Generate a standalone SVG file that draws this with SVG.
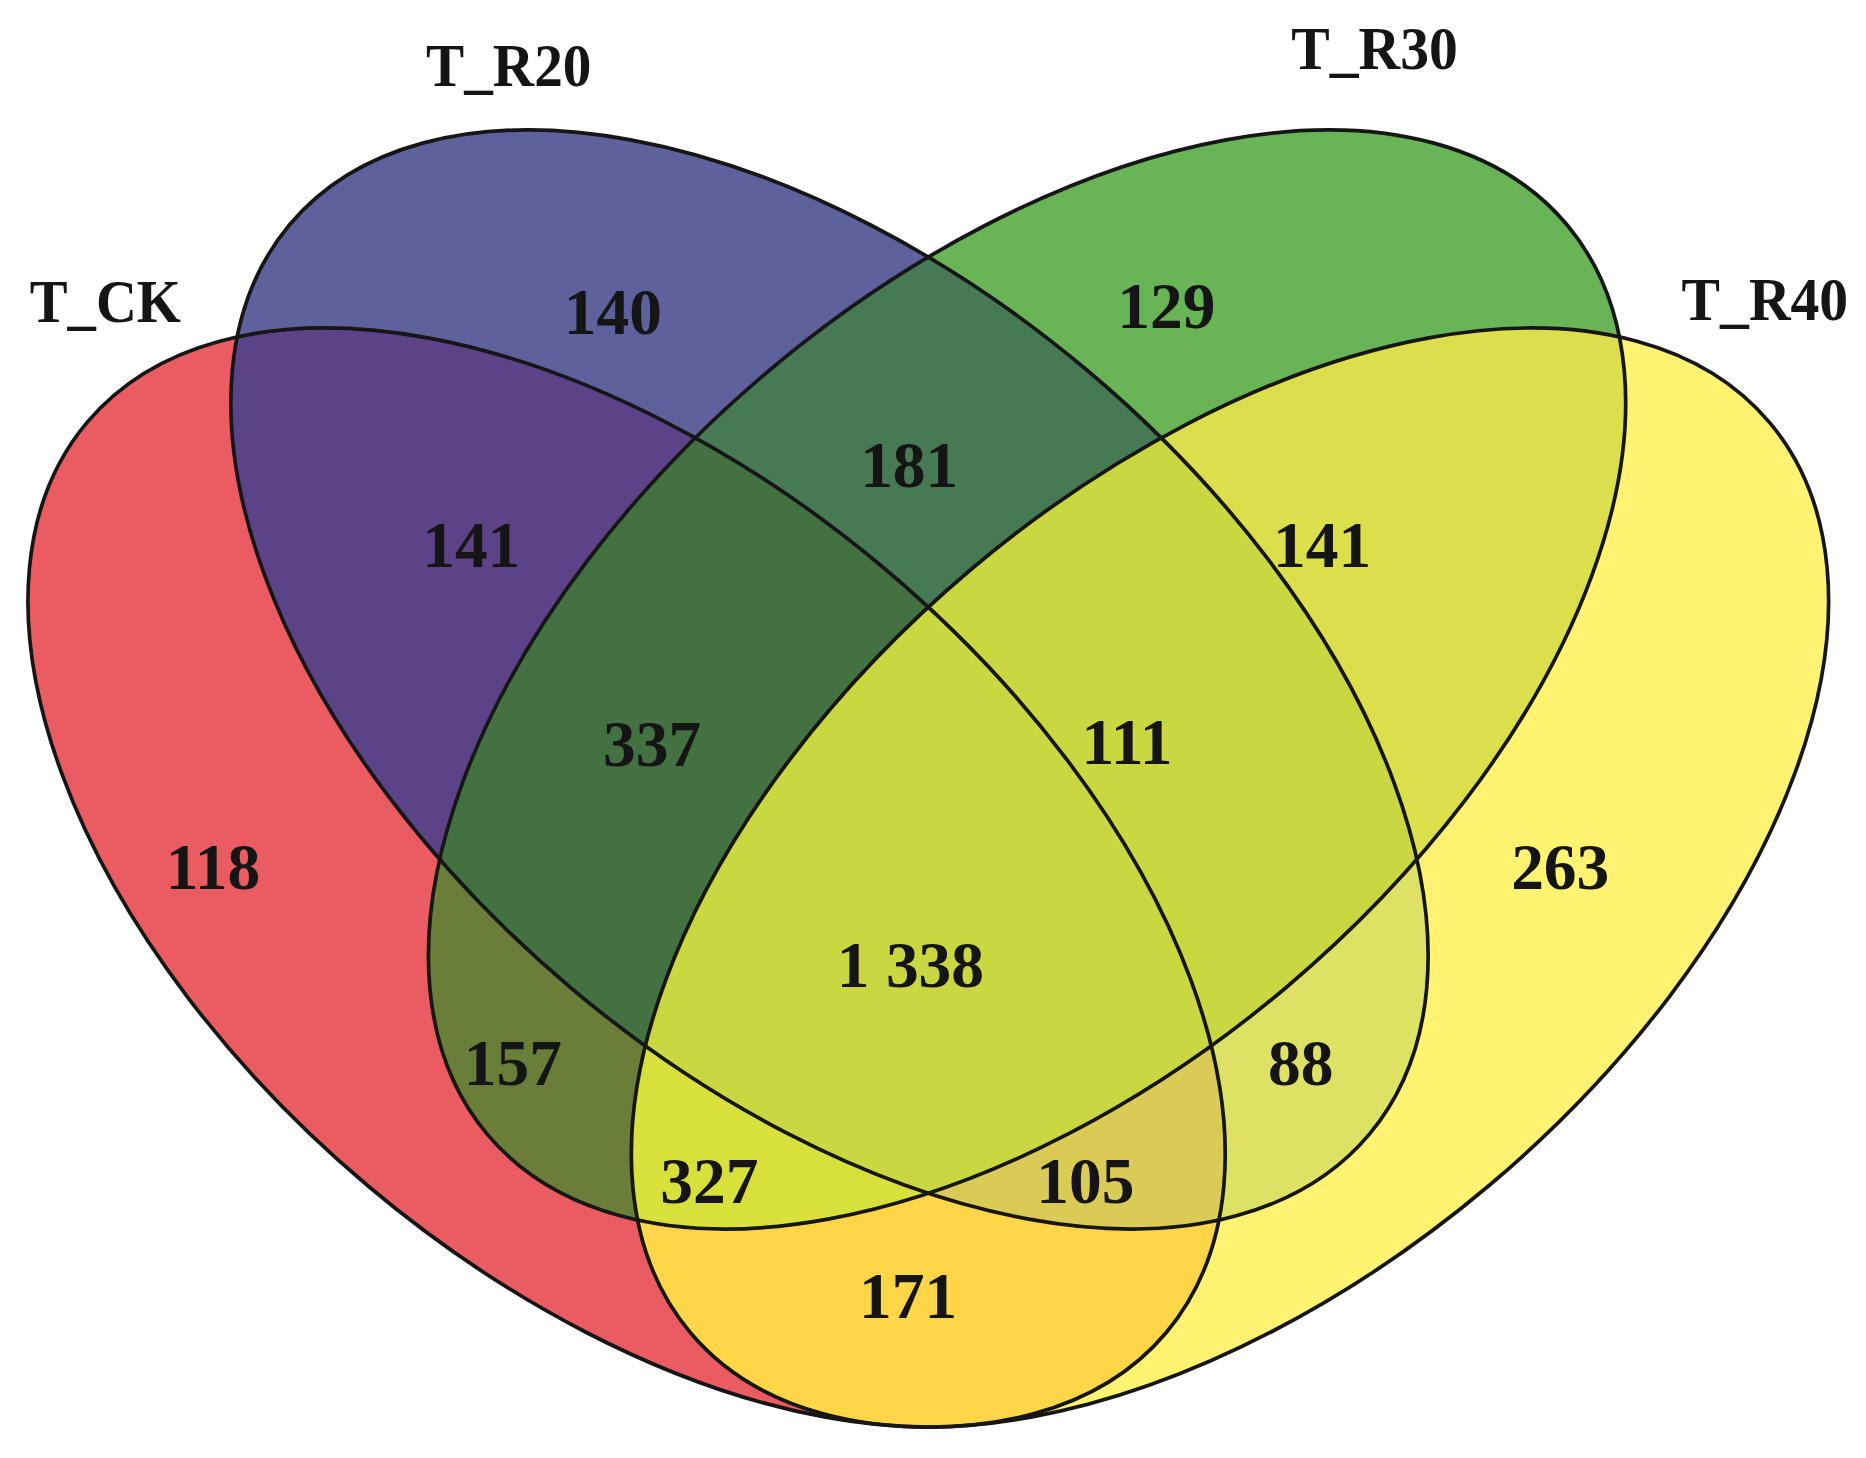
<svg xmlns="http://www.w3.org/2000/svg" xmlns:xlink="http://www.w3.org/1999/xlink" width="1866" height="1458" viewBox="0 0 1866 1458">
<style>
.num{font-family:"Liberation Serif","Times New Roman",serif;font-size:55px;font-weight:bold;fill:#151515;text-anchor:middle}
.lab{font-family:"Liberation Serif","Times New Roman",serif;font-size:52px;font-weight:bold;fill:#151515}
.edge{fill:none;stroke:#161616;stroke-width:3.1}
</style>
<defs>
<ellipse id="eR" cx="526.5" cy="735.5" rx="592.5" ry="337.7" transform="rotate(40.03 526.5 735.5)"/>
<ellipse id="eB" cx="697" cy="569.5" rx="592.5" ry="337.7" transform="rotate(40.03 697 569.5)"/>
<ellipse id="eG" cx="863" cy="569.5" rx="592.5" ry="337.7" transform="rotate(-40.03 863 569.5)"/>
<ellipse id="eY" cx="1033.5" cy="735.5" rx="592.5" ry="337.7" transform="rotate(-40.03 1033.5 735.5)"/>
<clipPath id="cR"><use xlink:href="#eR"/></clipPath>
<clipPath id="cB"><use xlink:href="#eB"/></clipPath>
<clipPath id="cG"><use xlink:href="#eG"/></clipPath>
<clipPath id="cY"><use xlink:href="#eY"/></clipPath>
</defs>
<rect width="1866" height="1458" fill="#ffffff"/>
<g transform="scale(1.1901 1.1931)">
<g id="fills">
<use xlink:href="#eR" fill="#EB5C62"/>
<use xlink:href="#eB" fill="#5E619B"/>
<use xlink:href="#eG" fill="#68B457"/>
<use xlink:href="#eY" fill="#FFF371"/>
<g clip-path="url(#cR)"><use xlink:href="#eB" fill="#5C4388"/></g>
<g clip-path="url(#cR)"><use xlink:href="#eG" fill="#6A7E3A"/></g>
<g clip-path="url(#cR)"><use xlink:href="#eY" fill="#FFD647"/></g>
<g clip-path="url(#cB)"><use xlink:href="#eG" fill="#477A54"/></g>
<g clip-path="url(#cB)"><use xlink:href="#eY" fill="#DDE265"/></g>
<g clip-path="url(#cG)"><use xlink:href="#eY" fill="#DBDF4B"/></g>
<g clip-path="url(#cR)"><g clip-path="url(#cB)"><use xlink:href="#eG" fill="#447141"/></g></g>
<g clip-path="url(#cR)"><g clip-path="url(#cB)"><use xlink:href="#eY" fill="#D9CB55"/></g></g>
<g clip-path="url(#cR)"><g clip-path="url(#cG)"><use xlink:href="#eY" fill="#D8E03C"/></g></g>
<g clip-path="url(#cB)"><g clip-path="url(#cG)"><use xlink:href="#eY" fill="#C9D740"/></g></g>
<g clip-path="url(#cR)"><g clip-path="url(#cB)"><g clip-path="url(#cG)"><use xlink:href="#eY" fill="#C9D740"/></g></g></g>
</g>
<g id="T_CK"><use xlink:href="#eR" class="edge"/><text class="lab" x="25" y="270" textLength="127" lengthAdjust="spacingAndGlyphs">T_CK</text></g>
<g id="T_R20"><use xlink:href="#eB" class="edge"/><text class="lab" x="358" y="72" textLength="139" lengthAdjust="spacingAndGlyphs">T_R20</text></g>
<g id="T_R30"><use xlink:href="#eG" class="edge"/><text class="lab" x="1085" y="58" textLength="140" lengthAdjust="spacingAndGlyphs">T_R30</text></g>
<g id="T_R40"><use xlink:href="#eY" class="edge"/><text class="lab" x="1413" y="268" textLength="140" lengthAdjust="spacingAndGlyphs">T_R40</text></g>
<g id="connectors"/>
<g id="counts">
<text class="num" x="515" y="280">140</text>
<text class="num" x="980" y="275">129</text>
<text class="num" x="764" y="408">181</text>
<text class="num" x="396" y="475">141</text>
<text class="num" x="1111" y="475">141</text>
<text class="num" x="548" y="642">337</text>
<text class="num" x="947" y="640">111</text>
<text class="num" x="179" y="745">118</text>
<text class="num" x="1311" y="745">263</text>
<text class="num" x="765" y="827">1 338</text>
<text class="num" x="431" y="909">157</text>
<text class="num" x="1093" y="909">88</text>
<text class="num" x="596" y="1008">327</text>
<text class="num" x="912" y="1008">105</text>
<text class="num" x="763" y="1105">171</text>
</g>
</g>
</svg>
